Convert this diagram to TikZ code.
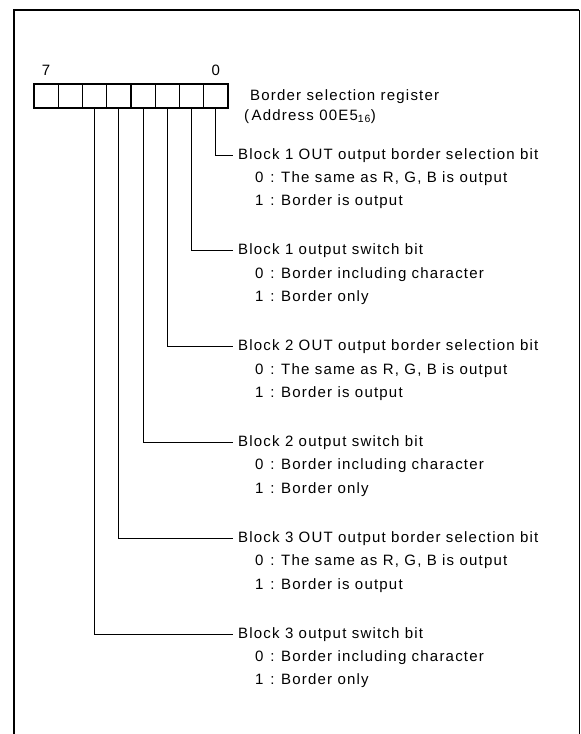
\documentclass[tikz,border=0pt]{standalone}
\usepackage{fontspec}
\setmainfont{Liberation Sans}[LetterSpace=8]
\usetikzlibrary{positioning,fit}
\newcommand\regfont{\fontsize{15}{18}\selectfont}

\begin{document}
\begin{tikzpicture}[x=1pt,y=1pt,node distance=5pt and 20pt,
  every node/.style={font=\regfont},
  cellbox/.style={draw,line width=1.1pt,minimum width=24.25pt,minimum height=24pt,inner sep=0pt,outer sep=0pt},
  rowtext/.style={anchor=west,text height=11pt,text depth=3pt,inner sep=2pt},
  bittitle/.style={rowtext,inner xsep=5pt},
  leader/.style={line width=.9pt}]
  \useasboundingbox (0,0) rectangle (581,-734);
  % frame
  \draw[line width=2.6pt] (14,-734) -- (14,-10) -- (579,-10);
  \draw[line width=.8pt] (579,-10) -- (579,-734);
  % register, bit 7 on the left
  \node[cellbox] (c7) at (46.1,-96) {};
  \node[cellbox,right=0pt of c7] (c6) {};
  \node[cellbox,right=0pt of c6] (c5) {};
  \node[cellbox,right=0pt of c5] (c4) {};
  \node[cellbox,right=0pt of c4] (c3) {};
  \node[cellbox,right=0pt of c3] (c2) {};
  \node[cellbox,right=0pt of c2] (c1) {};
  \node[cellbox,right=0pt of c1] (c0) {};
  \node[draw,line width=2.4pt,inner sep=0pt,fit=(c7)(c0)] (reg) {};
  \node[above=4.5pt of c7] (msb) {7};
  \node[above=4.5pt of c0] (lsb) {0};
  \node[rowtext,right=20pt of c0,anchor=west] (regname) {Border selection register};
  \node[rowtext,below right=2pt and -6pt of regname.south west] (regaddr) {(\,Address 00E5\textsubscript{16})};
  % bit descriptions
  \node[bittitle] (h1) at (233,-155) {Block 1 OUT output border selection bit};
  \node[rowtext,below right=of h1.south west] (h1a) {0\hspace{.45em}:\hspace{.45em}The same as R, G, B is output};
  \node[rowtext,below right=5pt and 0pt of h1a.south west] (h1b) {1\hspace{.45em}:\hspace{.45em}Border is output};
  \node[bittitle,below right=77.4pt and 0pt of h1.south west] (h2) {Block 1 output switch bit};
  \node[rowtext,below right=of h2.south west] (h2a) {0\hspace{.45em}:\hspace{.45em}Border including character};
  \node[rowtext,below right=5pt and 0pt of h2a.south west] (h2b) {1\hspace{.45em}:\hspace{.45em}Border only};
  \node[bittitle,below right=77.4pt and 0pt of h2.south west] (h3) {Block 2 OUT output border selection bit};
  \node[rowtext,below right=of h3.south west] (h3a) {0\hspace{.45em}:\hspace{.45em}The same as R, G, B is output};
  \node[rowtext,below right=5pt and 0pt of h3a.south west] (h3b) {1\hspace{.45em}:\hspace{.45em}Border is output};
  \node[bittitle,below right=77.4pt and 0pt of h3.south west] (h4) {Block 2 output switch bit};
  \node[rowtext,below right=of h4.south west] (h4a) {0\hspace{.45em}:\hspace{.45em}Border including character};
  \node[rowtext,below right=5pt and 0pt of h4a.south west] (h4b) {1\hspace{.45em}:\hspace{.45em}Border only};
  \node[bittitle,below right=77.4pt and 0pt of h4.south west] (h5) {Block 3 OUT output border selection bit};
  \node[rowtext,below right=of h5.south west] (h5a) {0\hspace{.45em}:\hspace{.45em}The same as R, G, B is output};
  \node[rowtext,below right=5pt and 0pt of h5a.south west] (h5b) {1\hspace{.45em}:\hspace{.45em}Border is output};
  \node[bittitle,below right=77.4pt and 0pt of h5.south west] (h6) {Block 3 output switch bit};
  \node[rowtext,below right=of h6.south west] (h6a) {0\hspace{.45em}:\hspace{.45em}Border including character};
  \node[rowtext,below right=5pt and 0pt of h6a.south west] (h6b) {1\hspace{.45em}:\hspace{.45em}Border only};
  % leaders
  \draw[leader] (c0.south) |- (h1.west);
  \draw[leader] (c1.south) |- (h2.west);
  \draw[leader] (c2.south) |- (h3.west);
  \draw[leader] (c3.south) |- (h4.west);
  \draw[leader] (c4.south) |- (h5.west);
  \draw[leader] (c5.south) |- (h6.west);
\end{tikzpicture}
\end{document}
